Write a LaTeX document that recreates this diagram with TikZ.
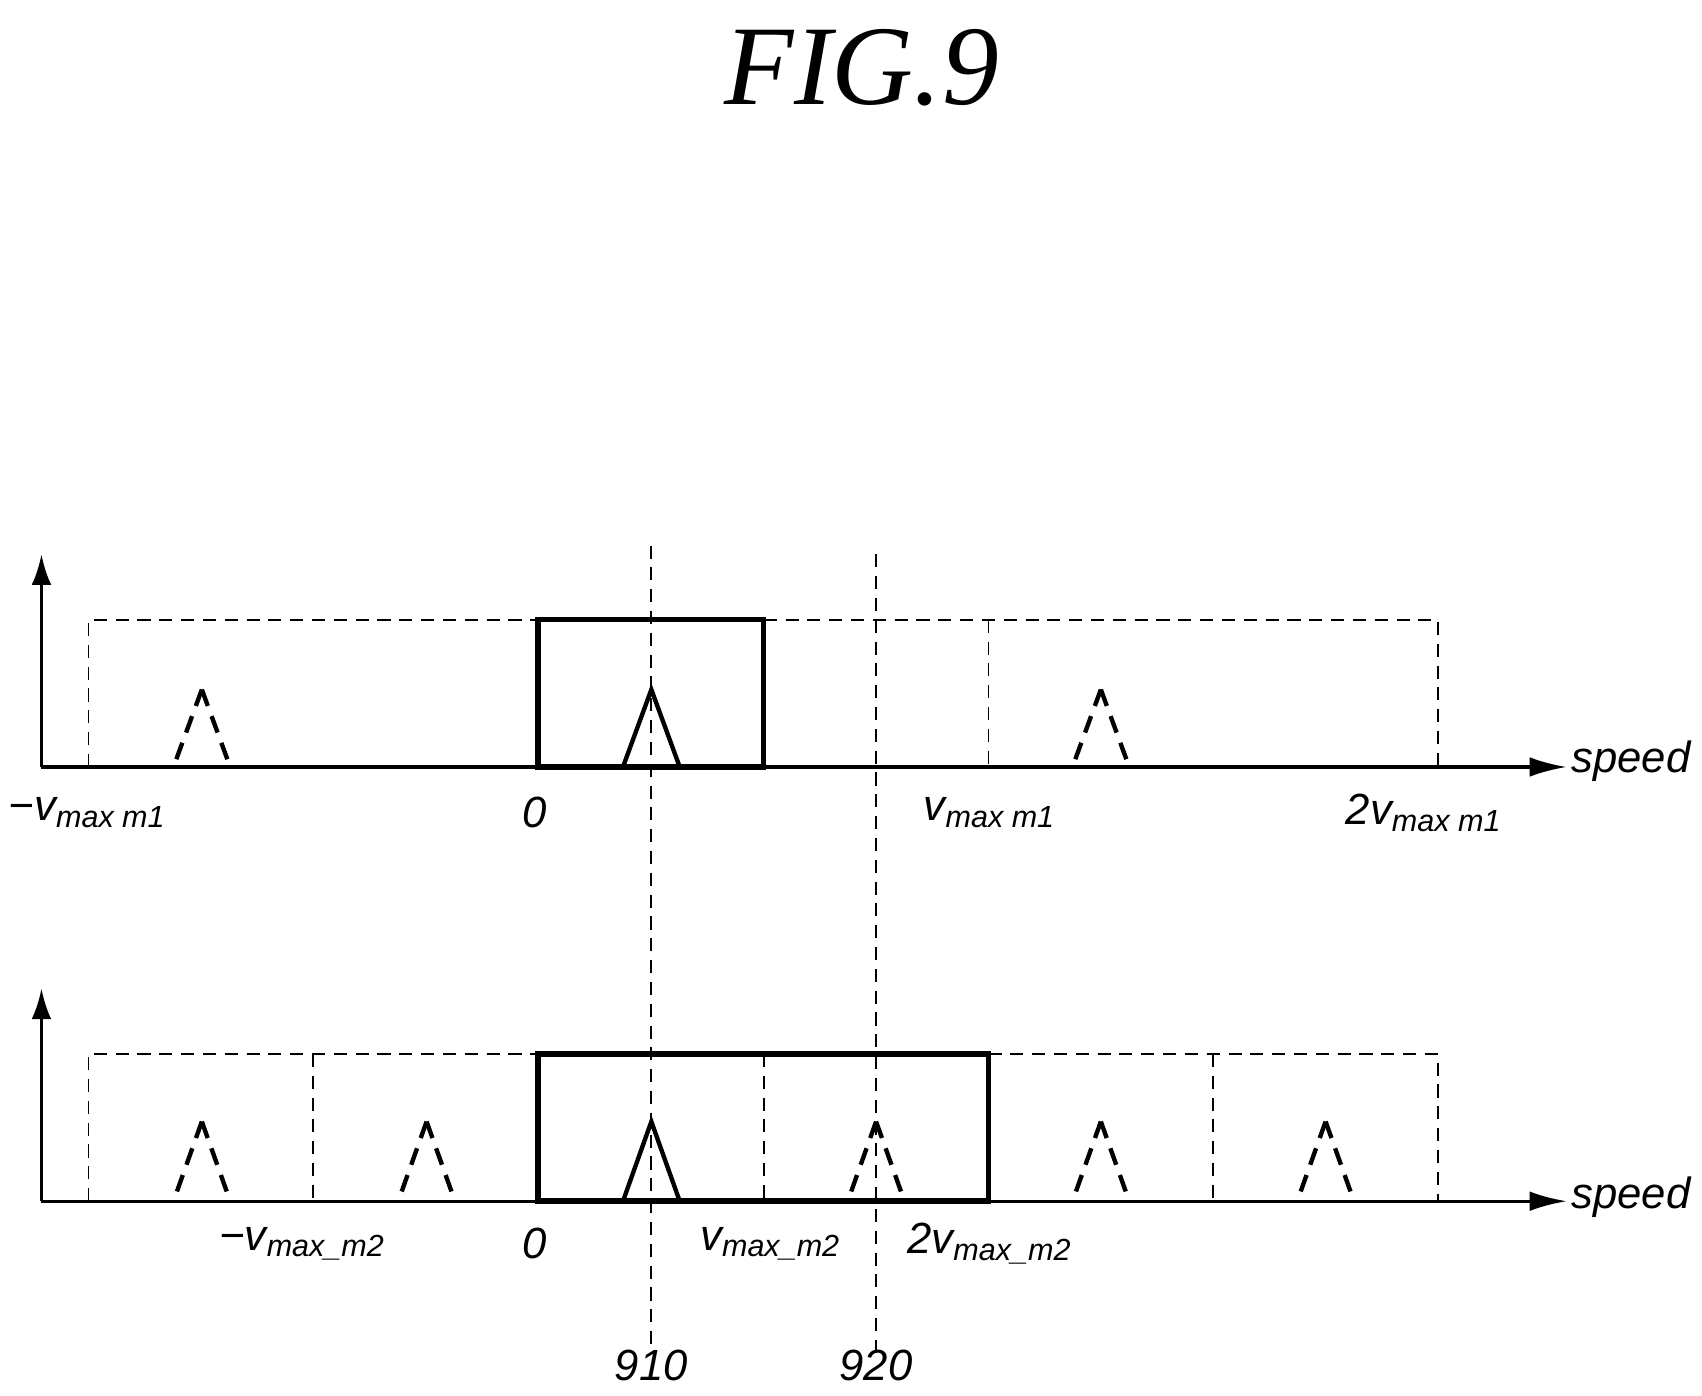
\documentclass[tikz,border=0pt]{standalone}
\usetikzlibrary{arrows.meta}
\usepackage{fontspec}
\setmainfont{Liberation Sans}
\newfontfamily\titlefont{Liberation Serif}
\begin{document}
\begin{tikzpicture}[x=0.5pt,y=-0.5pt,
  thin dash/.style={dashed,line width=0.8pt,dash pattern=on 6pt off 4pt},
  axisline/.style={line width=1.5pt},
  heavy/.style={line width=2.5pt},
  peakdash/.style={line width=2pt,dash pattern=on 8pt off 5pt},
  peaksolid/.style={line width=2pt},
  lbl/.style={font=\fontsize{20}{22}\selectfont\itshape, inner sep=0pt}]
\useasboundingbox (0,0) rectangle (1560,1279);
\node[font=\titlefont\fontsize{52}{56}\selectfont\itshape] (title) at (790,62) {FIG.9};
% vertical reference lines
\draw[thin dash] (597,500) -- (597,1240);
\draw[thin dash] (803,508) -- (803,1240);
\node[lbl] (n910) at (597,1252) {910};
\node[lbl] (n920) at (803,1252) {920};
% axes
\foreach \y/\t in {703/568, 1101/966}{
  \draw[axisline,-{Latex[length=14pt,width=9pt]}] (38,\y) -- (38,\t-60);
}
\draw[axisline,-{Latex[length=17pt,width=9pt]}] (38,703) -- (1436,703);
\draw[axisline,-{Latex[length=17pt,width=9pt]}] (38,1101) -- (1436,1101);
\node[lbl,anchor=west] (sp1) at (1440,698) {speed};
\node[lbl,anchor=west] (sp2) at (1440,1097) {speed};
% top dashed boxes
\draw[thin dash] (81,703) -- (81,568) -- (493,568);
\draw[thin dash] (700,568) -- (1318,568) -- (1318,703);
\draw[thin dash] (906,568) -- (906,703);
\draw[heavy] (493,703) rectangle (700,568);
\foreach \c in {185,1009}{\draw[peakdash] (\c,632) -- (\c-26,703); \draw[peakdash] (\c,632) -- (\c+26,703);}
\draw[peaksolid] (571,703) -- (597,632) -- (623,703);
\node[lbl] (a1) at (80,745) {\textminus v\textsubscript{max m1}};
\node[lbl] (a2) at (490,745) {0};
\node[lbl] (a3) at (907,745) {v\textsubscript{max m1}};
\node[lbl] (a4) at (1305,745) {2v\textsubscript{max m1}};
% bottom panel
\draw[thin dash] (81,1101) -- (81,966) -- (493,966);
\draw[thin dash] (906,966) -- (1318,966) -- (1318,1101);
\foreach \x in {287,1112}{\draw[thin dash] (\x,966) -- (\x,1101);}
\draw[thin dash] (700,966) -- (700,1101);
\draw[heavy] (493,1101) rectangle (906,966);
\foreach \c in {185,391,803,1009,1215}{\draw[peakdash] (\c,1028) -- (\c-26,1101); \draw[peakdash] (\c,1028) -- (\c+26,1101);}
\draw[peaksolid] (571,1101) -- (597,1028) -- (623,1101);
\node[lbl] (b1) at (277,1140) {\textminus v\textsubscript{max\_m2}};
\node[lbl] (b2) at (490,1140) {0};
\node[lbl] (b3) at (706,1140) {v\textsubscript{max\_m2}};
\node[lbl] (b4) at (907,1140) {2v\textsubscript{max\_m2}};
\end{tikzpicture}
\end{document}
